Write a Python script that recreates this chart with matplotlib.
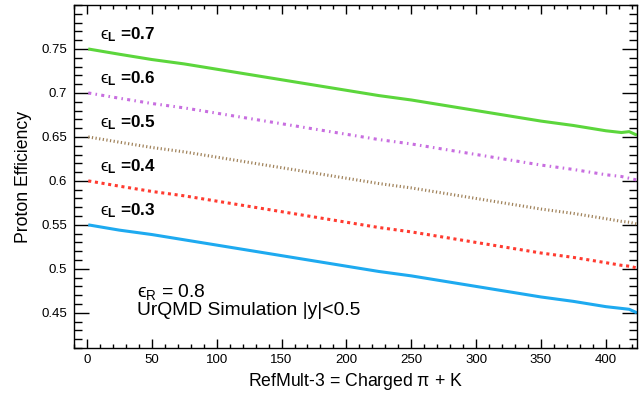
import matplotlib
matplotlib.use("Agg")
import matplotlib.pyplot as plt
from matplotlib.ticker import MultipleLocator

plt.rcParams['font.family'] = ['Liberation Sans', 'DejaVu Sans']
plt.rcParams['mathtext.fontset'] = 'custom'
plt.rcParams['mathtext.rm'] = 'Liberation Sans'
plt.rcParams['mathtext.it'] = 'Liberation Sans:italic'
plt.rcParams['mathtext.bf'] = 'Liberation Sans:bold'
plt.rcParams['mathtext.fallback'] = 'stixsans'

# refmult-3 sample points
refmult = [1, 25, 50, 75, 100, 125, 150, 175, 200, 225, 250, 275, 300,
           325, 350, 375, 400, 412, 418, 424]

eff_07 = [0.750, 0.744, 0.738, 0.733, 0.727, 0.721, 0.715, 0.709, 0.703, 0.697,
          0.692, 0.686, 0.680, 0.674, 0.668, 0.663, 0.657, 0.655, 0.656, 0.652]
eff_06 = [0.700, 0.694, 0.688, 0.683, 0.677, 0.671, 0.665, 0.659, 0.653, 0.647,
          0.642, 0.636, 0.630, 0.624, 0.618, 0.613, 0.607, 0.605, 0.603, 0.601]
eff_05 = [0.650, 0.644, 0.638, 0.633, 0.627, 0.621, 0.615, 0.609, 0.603, 0.597,
          0.592, 0.586, 0.580, 0.574, 0.568, 0.563, 0.557, 0.554, 0.553, 0.551]
eff_04 = [0.600, 0.594, 0.588, 0.583, 0.577, 0.571, 0.565, 0.559, 0.553, 0.547,
          0.542, 0.536, 0.530, 0.524, 0.518, 0.513, 0.507, 0.504, 0.503, 0.501]
eff_03 = [0.550, 0.544, 0.539, 0.533, 0.527, 0.521, 0.515, 0.509, 0.503, 0.497,
          0.492, 0.486, 0.480, 0.474, 0.468, 0.463, 0.457, 0.455, 0.454, 0.450]

eps_L = ['0.7', '0.6', '0.5', '0.4', '0.3']
series = [eff_07, eff_06, eff_05, eff_04, eff_03]
colors = ['#5cd63c', '#c86ee0', '#a0825a', '#ff3b30', '#1eaaf0']
styles = ['-', (0, (1, 1.4, 0.5, 1.4)), (0, (0.4, 0.8)), (0, (1, 1.2)), '-']

fig = plt.figure(figsize=(6.44, 3.94), dpi=100)
ax = fig.add_axes([0.1149, 0.1168, 0.8742, 0.8705])

for y, c, ls in zip(series, colors, styles):
    ax.plot(refmult, y, color=c, linestyle=ls, linewidth=2.2,
            dash_capstyle='butt', solid_capstyle='butt')

# labels above each curve
for lab, y in zip(eps_L, series):
    ax.text(10, y[0] + 0.0106, r'$\mathrm{ϵ}_{\mathbf{L}}$ =' + lab,
            fontsize=12.3, fontweight='bold', va='baseline', ha='left')

ax.text(38.5, 0.4681, r'$\mathrm{ϵ}_{\mathrm{R}}$ = 0.8', fontsize=13.9,
        va='baseline', ha='left')
ax.text(38.5, 0.4474, 'UrQMD Simulation |y|<0.5', fontsize=13.9,
        va='baseline', ha='left')

ax.set_xlim(-10, 424)
ax.set_ylim(0.41, 0.8)
ax.xaxis.set_major_locator(MultipleLocator(50))
ax.xaxis.set_minor_locator(MultipleLocator(10))
ax.yaxis.set_minor_locator(MultipleLocator(0.01))
ax.set_yticks([0.45, 0.5, 0.55, 0.6, 0.65, 0.7, 0.75])
ax.set_yticklabels(['0.45', '0.5', '0.55', '0.6', '0.65', '0.7', '0.75'])

ax.tick_params(axis='both', which='both', direction='in', top=True, right=True,
               labelsize=9.5, width=1, colors='black')
ax.tick_params(axis='y', which='major', length=10.8, pad=5)
ax.tick_params(axis='y', which='minor', length=5.8)
ax.tick_params(axis='x', which='major', length=6.8, pad=4)
ax.tick_params(axis='x', which='minor', length=3.2)
for s in ax.spines.values():
    s.set_linewidth(1)

ax.set_xlabel(r'RefMult-3 = Charged $\mathrm{π}$ + K', fontsize=12.7, labelpad=4)
ax.set_ylabel('Proton Efficiency', fontsize=12.7, labelpad=7)

fig.savefig('out.png', dpi=100)
